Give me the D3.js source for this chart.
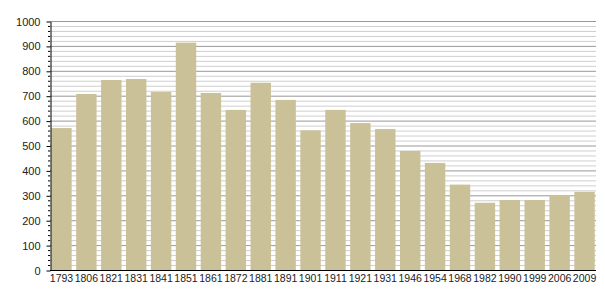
<!DOCTYPE html>
<html><head><meta charset="utf-8">
<script src="https://cdn.jsdelivr.net/npm/d3@7"></script>
<style>body{margin:0;background:#fff}</style>
</head><body>
<svg id="c" width="605" height="300"></svg>
<script>
const years = ["1793","1806","1821","1831","1841","1851","1861","1872","1881","1891","1901","1911","1921","1931","1946","1954","1968","1982","1990","1999","2006","2009"];
const population = [570,707,763,767,715,913,711,643,752,683,561,643,590,566,478,430,343,270,281,281,300,314];
const yTicks = [0,100,200,300,400,500,600,700,800,900,1000];

(function () {
const svg = d3.select("#c");
const mL = 50, mR = 596, mT = 21, mB = 270;
const x = d3.scaleBand().domain(years).range([mL, mR]).paddingInner(0.18).paddingOuter(0.05);
const y = d3.scaleLinear().domain([0, 1000]).range([mB, mT]);

const minor = d3.range(0, 1001, 20).filter(v => v % 100 !== 0);
svg.append("g").selectAll("line").data(minor).join("line")
  .attr("x1", mL).attr("x2", mR).attr("y1", d => y(d) + 0.5).attr("y2", d => y(d) + 0.5)
  .attr("stroke", "#cfcfcf").attr("stroke-width", 1);
svg.append("g").selectAll("line").data(yTicks.filter(v => v > 0)).join("line")
  .attr("x1", mL).attr("x2", mR).attr("y1", d => y(d) + 0.5).attr("y2", d => y(d) + 0.5)
  .attr("stroke", "#999").attr("stroke-width", 1);

svg.append("g").selectAll("rect").data(population).join("rect")
  .attr("x", (d, i) => x(years[i])).attr("width", x.bandwidth())
  .attr("y", d => y(d)).attr("height", d => mB - y(d))
  .attr("fill", "#cbc199");

svg.append("g").selectAll("line").data(minor).join("line")
  .attr("x1", mL - 2).attr("x2", mL).attr("y1", d => y(d) + 0.5).attr("y2", d => y(d) + 0.5)
  .attr("stroke", "#000");

const yAxis = svg.append("g").attr("transform", `translate(${mL + 0.5},0.5)`)
  .call(d3.axisLeft(y).tickValues(yTicks).tickFormat(d3.format("d")).tickSize(4).tickSizeOuter(0).tickPadding(6));
yAxis.select(".domain").attr("stroke", "#000");
yAxis.selectAll("text").attr("font-family", "Liberation Sans, Arial, sans-serif").attr("font-size", 11).attr("fill", "#222");

const xAxis = svg.append("g").attr("transform", `translate(0,${mB + 0.5})`)
  .call(d3.axisBottom(x).tickSize(0).tickSizeOuter(0).tickPadding(4));
xAxis.select(".domain").attr("stroke", "#000").attr("d", `M${mL},0H${mR}`);
xAxis.selectAll("text").attr("font-family", "Liberation Sans, Arial, sans-serif").attr("font-size", 10.5).attr("fill", "#222");
})();
</script>
</body></html>
